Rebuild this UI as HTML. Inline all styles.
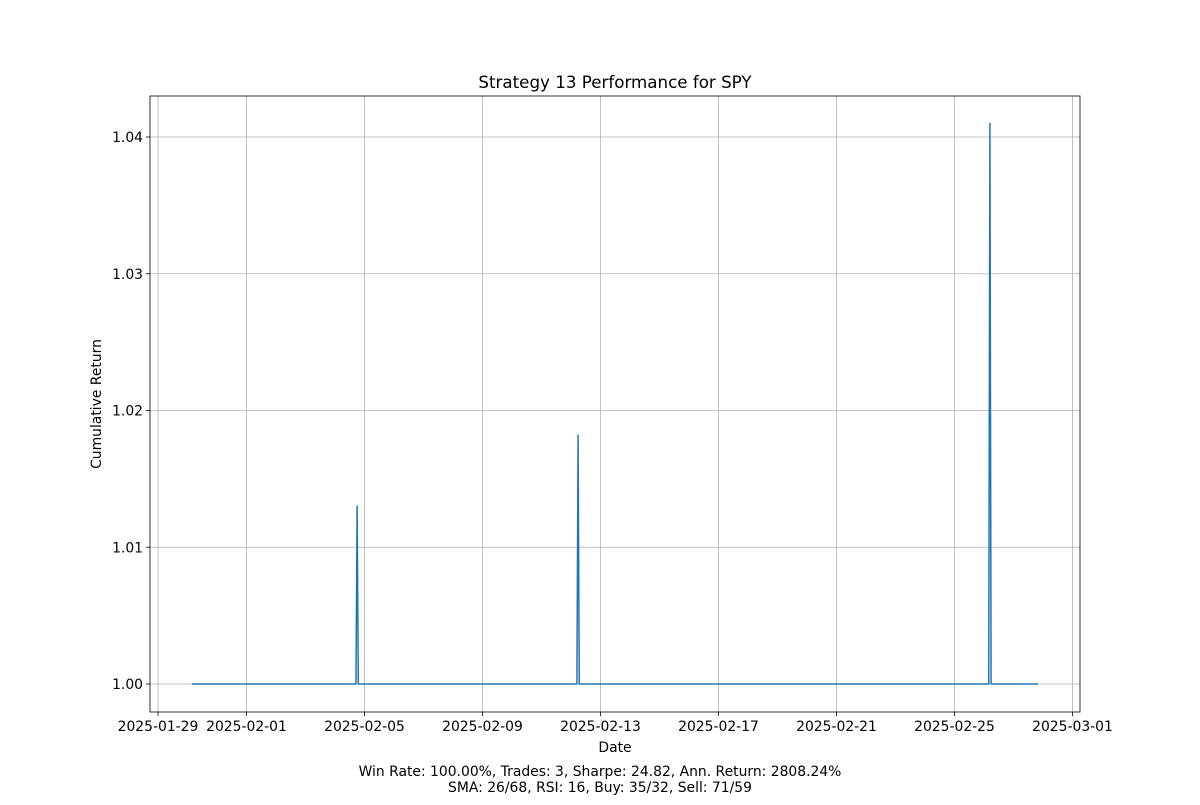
<!DOCTYPE html>
<html><head><meta charset="utf-8"><style>
body{margin:0;background:#fff;font-family:"Liberation Sans","DejaVu Sans",sans-serif}
svg text{font-family:"DejaVu Sans","Liberation Sans",sans-serif;fill:#000}
</style></head><body>
<svg id="c" width="1200" height="800" xmlns="http://www.w3.org/2000/svg"></svg>
<script>
// x in days since 2025-01-29 00:00
const xDays=[1.15,6.71,6.75,6.79,14.20,14.24,14.28,28.16,28.2,28.24,29.83];
const yVals=[1.0,1.0,1.013,1.0,1.0,1.0182,1.0,1.0,1.041,1.0,1.0];
const xTickDays=[0,3,7,11,15,19,23,27,31];
const xTickLabels=["2025-01-29","2025-02-01","2025-02-05","2025-02-09","2025-02-13","2025-02-17","2025-02-21","2025-02-25","2025-03-01"];
const yTicks=[1.00,1.01,1.02,1.03,1.04];
const yTickLabels=["1.00","1.01","1.02","1.03","1.04"];

const L=150,R=1080,T=96,B=712;
const X=d=>158+d*29.5;
const Y=v=>684-(v-1)*13675;
const svg=document.getElementById('c');
const NS='http://www.w3.org/2000/svg';
function mk(t,a,txt){const e=document.createElementNS(NS,t);for(const k in a)e.setAttribute(k,a[k]);if(txt!=null)e.textContent=txt;svg.appendChild(e);return e;}
xTickDays.forEach((d,i)=>{const x=X(d);
 const g=mk('line',{x1:x,x2:x,y1:T,y2:B,stroke:'#b0b0b0','stroke-width':0.8});
 
 mk('line',{x1:x,x2:x,y1:B,y2:B+4,stroke:'#000','stroke-width':0.8});
 const t=mk('text',{x:x,y:B+19,'text-anchor':'middle','font-size':13.9},xTickLabels[i]);
 
});
yTicks.forEach((v,i)=>{const y=Y(v);
 const g=mk('line',{x1:L,x2:R,y1:y,y2:y,stroke:'#b0b0b0','stroke-width':0.8});
 
 mk('line',{x1:L-4,x2:L,y1:y,y2:y,stroke:'#000','stroke-width':0.8});
 const t=mk('text',{x:L-7,y:y+5,'text-anchor':'end','font-size':13.9},yTickLabels[i]);
 
});
const p=mk('polyline',{points:xDays.map((d,i)=>X(d)+','+Y(yVals[i])).join(' '),fill:'none',stroke:'#1f77b4','stroke-width':1.5,'stroke-linejoin':'round'});

const f=mk('rect',{x:L,y:T,width:R-L,height:B-T,fill:'none',stroke:'#000','stroke-width':0.8});

const tt=mk('text',{x:615,y:88,'text-anchor':'middle','font-size':16.7},'Strategy 13 Performance for SPY');

const xl=mk('text',{x:615,y:752,'text-anchor':'middle','font-size':13.9},'Date');

const yl=mk('text',{x:0,y:0,'text-anchor':'middle','font-size':13.9,transform:'translate(101,404) rotate(-90)'},'Cumulative Return');

const s1=mk('text',{x:600,y:776,'text-anchor':'middle','font-size':13.9},'Win Rate: 100.00%, Trades: 3, Sharpe: 24.82, Ann. Return: 2808.24%');

const s2=mk('text',{x:600,y:792,'text-anchor':'middle','font-size':13.9},'SMA: 26/68, RSI: 16, Buy: 35/32, Sell: 71/59');

</script>
</body></html>
